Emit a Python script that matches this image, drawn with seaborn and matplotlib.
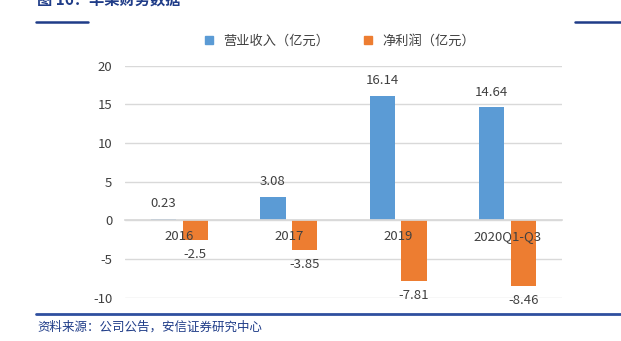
import matplotlib
matplotlib.use("Agg")
import matplotlib.pyplot as plt
import seaborn as sns
import pandas as pd
from matplotlib.lines import Line2D

categories = ["2016", "2017", "2019", "2020Q1-Q3"]
revenue = [0.23, 3.08, 16.14, 14.64]
net_profit = [-2.5, -3.85, -7.81, -8.46]
series_names = ["营业收入（亿元）", "净利润（亿元）"]
yticks = [-10, -5, 0, 5, 10, 15, 20]
title = "图 16：华某财务数据"
source = "资料来源：公司公告，安信证券研究中心"

sns.set_theme(style="white")
plt.rcParams["font.family"] = ["Noto Sans CJK SC", "DejaVu Sans"]

df = pd.DataFrame({
    "cat": categories * 2,
    "val": revenue + net_profit,
    "series": [series_names[0]] * 4 + [series_names[1]] * 4,
})

colors = ["#5B9BD5", "#ED7D31"]
text_color = "#404040"

fig = plt.figure(figsize=(6.21, 3.41), dpi=100)
ax = fig.add_axes([0.201, 0.127, 0.704, 0.68])

sns.barplot(data=df, x="cat", y="val", hue="series", palette=colors,
            width=0.58, gap=0.2, ax=ax, legend=False, saturation=1,
            edgecolor="none", order=categories, hue_order=series_names)

ax.set_ylim(-10, 20)
ax.set_yticks(yticks)
ax.set_yticklabels([str(t) for t in yticks])
ax.set_xlim(-0.5, len(categories) - 0.5)
ax.set_xlabel("")
ax.set_ylabel("")

ax.set_axisbelow(True)
ax.yaxis.grid(True, color="#D9D9D9", linewidth=1)
ax.xaxis.set_zorder(3)
for s in ["top", "right", "left"]:
    ax.spines[s].set_visible(False)
ax.spines["bottom"].set_position(("data", 0))
ax.spines["bottom"].set_color("#D9D9D9")
ax.tick_params(axis="x", length=0, pad=7, labelsize=9.5, labelcolor=text_color)
ax.tick_params(axis="y", length=0, pad=9, labelsize=9.5, labelcolor=text_color)

for cont in ax.containers:
    ax.bar_label(cont, labels=[f"{v:g}" for v in cont.datavalues],
                 padding=6, fontsize=9.5, color=text_color)

handles = [Line2D([0], [0], marker="s", linestyle="none", markersize=5.5,
                  markerfacecolor=c, markeredgecolor=c) for c in colors]
fig.legend(handles, series_names, loc="center", bbox_to_anchor=(0.54, 0.878),
           ncol=2, frameon=False, fontsize=9.5, handletextpad=0.05,
           columnspacing=2.0, labelcolor=text_color)

navy = "#1F3C88"
fig.text(37 / 621, 0.977, title, color=navy, fontsize=11, fontweight="bold",
         ha="left", va="bottom")
fig.add_artist(Line2D([36 / 621, 88 / 621], [1 - 22 / 341] * 2, color=navy,
                      linewidth=1.8, transform=fig.transFigure))
fig.add_artist(Line2D([575 / 621, 1.0], [1 - 22 / 341] * 2, color=navy,
                      linewidth=1.8, transform=fig.transFigure))
fig.add_artist(Line2D([36 / 621, 1.0], [1 - 314 / 341] * 2, color="#2F4F9F",
                      linewidth=2, transform=fig.transFigure))
fig.text(37 / 621, 1 - 327 / 341, source, color=navy, fontsize=9,
         ha="left", va="center", style="italic")

fig.savefig("out.png", dpi=100)
